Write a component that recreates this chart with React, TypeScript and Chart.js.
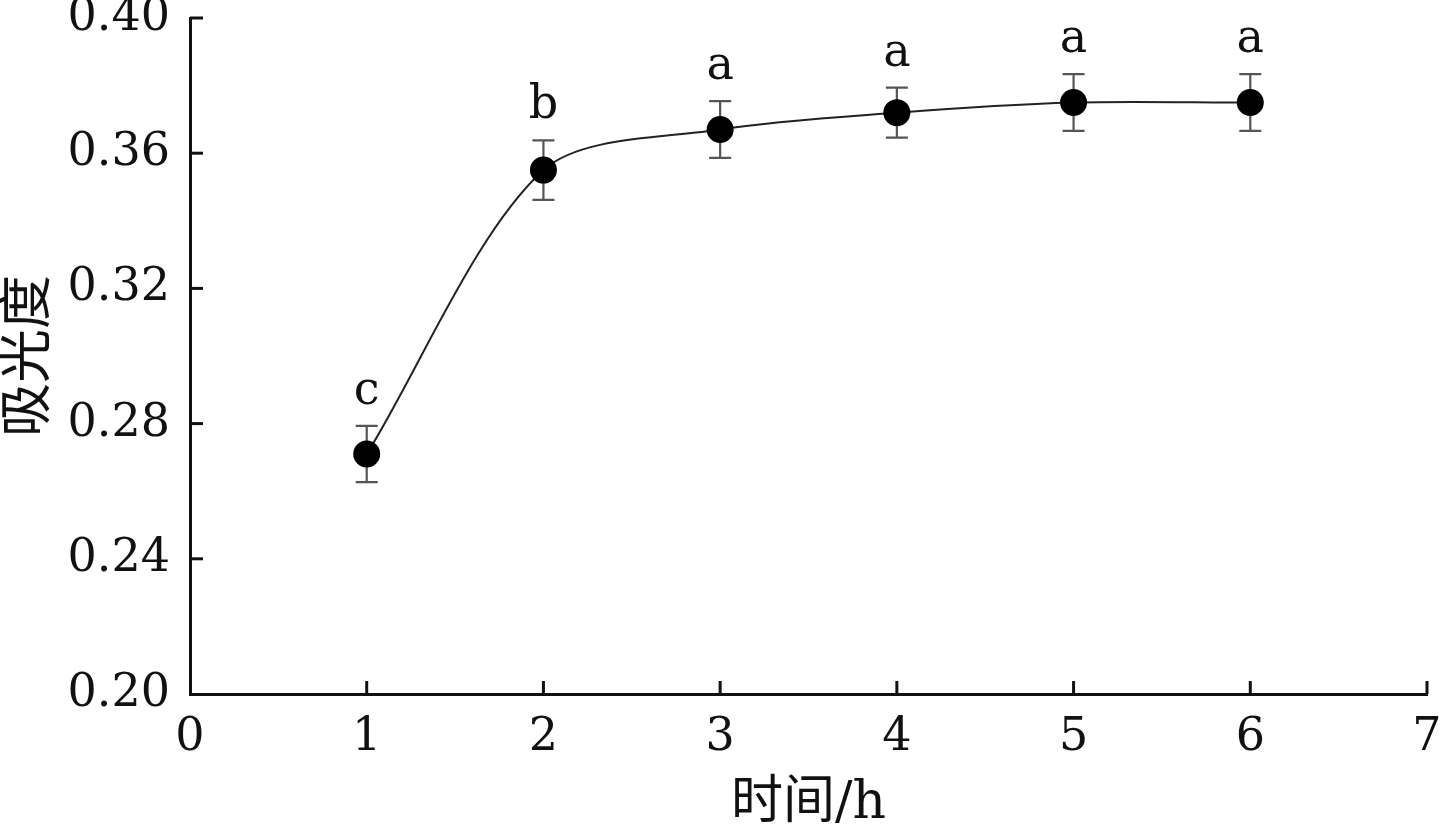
import React, { useEffect, useRef } from "react";
import { Chart, registerables } from "chart.js";

Chart.register(...registerables);

const timeHours = [1, 2, 3, 4, 5, 6];
const absorbance = [0.271, 0.355, 0.367, 0.372, 0.375, 0.375];
const errors = [0.0083, 0.0088, 0.0084, 0.0074, 0.0084, 0.0084];
const groupLetters = ["c", "b", "a", "a", "a", "a"];
const yTicks = [0.2, 0.24, 0.28, 0.32, 0.36, 0.4];
const xTicks = [0, 1, 2, 3, 4, 5, 6, 7];

const FONT = '"DejaVu Serif", "Noto Sans CJK SC", serif';

const overlayPlugin = {
  id: "overlay",
  beforeDatasetsDraw(chart: any) {
    const { ctx, scales } = chart;
    const xs = scales.x;
    const ys = scales.y;
    ctx.save();
    ctx.strokeStyle = "#555";
    ctx.lineWidth = 2.2;
    timeHours.forEach((t, i) => {
      const px = xs.getPixelForValue(t);
      const top = ys.getPixelForValue(absorbance[i] + errors[i]);
      const bot = ys.getPixelForValue(absorbance[i] - errors[i]);
      ctx.beginPath();
      ctx.moveTo(px, top);
      ctx.lineTo(px, bot);
      ctx.moveTo(px - 11, top);
      ctx.lineTo(px + 11, top);
      ctx.moveTo(px - 11, bot);
      ctx.lineTo(px + 11, bot);
      ctx.stroke();
    });
    ctx.restore();
  },
  afterDatasetsDraw(chart: any) {
    const { ctx, scales, chartArea } = chart;
    const xs = scales.x;
    const ys = scales.y;
    ctx.save();
    ctx.fillStyle = "#111";
    ctx.font = `46px ${FONT}`;
    ctx.textAlign = "center";
    ctx.textBaseline = "alphabetic";
    timeHours.forEach((t, i) => {
      const px = xs.getPixelForValue(t);
      const top = ys.getPixelForValue(absorbance[i] + errors[i]);
      ctx.fillText(groupLetters[i], px, top - 22);
    });
    ctx.strokeStyle = "#111";
    ctx.lineWidth = 3;
    xTicks.forEach((v) => {
      if (v === 0) return;
      const px = xs.getPixelForValue(v);
      ctx.beginPath();
      ctx.moveTo(px, chartArea.bottom);
      ctx.lineTo(px, chartArea.bottom - 13);
      ctx.stroke();
    });
    yTicks.forEach((v) => {
      if (v === 0.2) return;
      const py = ys.getPixelForValue(v);
      ctx.beginPath();
      ctx.moveTo(chartArea.left, py);
      ctx.lineTo(chartArea.left + 13, py);
      ctx.stroke();
    });
    ctx.restore();
  },
};

export default function App() {
  const canvasRef = useRef<HTMLCanvasElement | null>(null);

  useEffect(() => {
    if (!canvasRef.current) return;
    const chart = new Chart(canvasRef.current, {
      type: "line",
      data: {
        datasets: [
          {
            data: timeHours.map((t, i) => ({ x: t, y: absorbance[i] })),
            borderColor: "#222",
            borderWidth: 2,
            backgroundColor: "#000",
            pointBackgroundColor: "#000",
            pointBorderWidth: 0,
            pointRadius: 13.5,
            tension: 0.3,
            fill: false,
          },
        ],
      },
      options: {
        animation: false,
        responsive: true,
        maintainAspectRatio: false,
        layout: { padding: { top: 18, right: 14, left: 0, bottom: 0 } },
        plugins: {
          legend: { display: false },
          tooltip: { enabled: false },
        },
        scales: {
          x: {
            type: "linear",
            min: 0,
            max: 7,
            afterBuildTicks: (scale: any) => {
              scale.ticks = xTicks.map((v) => ({ value: v }));
            },
            ticks: {
              color: "#111",
              font: { family: FONT, size: 46 },
              padding: 8,
              callback: (v: any) => String(v),
              maxRotation: 0,
              autoSkip: false,
            },
            grid: { display: false },
            border: { display: true, color: "#111", width: 3 },
            title: {
              display: true,
              text: "时间/h",
              color: "#111",
              font: { family: FONT, size: 52, lineHeight: 1.0 },
              padding: { top: 0, bottom: 0 },
            },
            afterFit: (scale: any) => {
              scale.height = 136;
              scale.paddingLeft = 0;
              scale.paddingRight = 0;
            },
          },
          y: {
            type: "linear",
            min: 0.2,
            max: 0.4,
            afterBuildTicks: (scale: any) => {
              scale.ticks = yTicks.map((v) => ({ value: v }));
            },
            ticks: {
              color: "#111",
              font: { family: FONT, size: 46 },
              padding: 12,
              callback: (v: any) => Number(v).toFixed(2),
              autoSkip: false,
            },
            grid: { display: false },
            border: { display: true, color: "#111", width: 3 },
            title: {
              display: true,
              text: "吸光度",
              color: "#111",
              font: { family: FONT, size: 54, lineHeight: 1.0 },
              padding: { top: 4, bottom: 0 },
            },
            afterFit: (scale: any) => {
              scale.width = 190;
              scale.paddingTop = 0;
              scale.paddingBottom = 0;
            },
          },
        },
      } as any,
      plugins: [overlayPlugin],
    });
    return () => chart.destroy();
  }, []);

  return (
    <div style={{ position: "absolute", left: 0, top: 0, width: 1441, height: 830, background: "#fff" }}>
      <canvas ref={canvasRef} />
    </div>
  );
}
